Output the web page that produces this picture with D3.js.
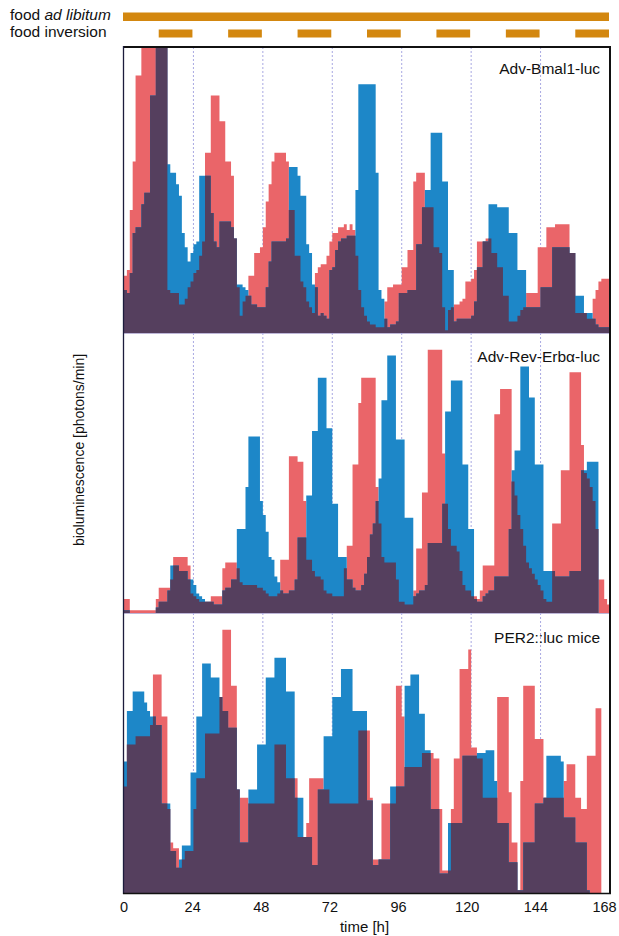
<!DOCTYPE html>
<html>
<head>
<meta charset="utf-8">
<script src="https://cdn.jsdelivr.net/npm/d3@7"></script>
<style>
  body { margin: 0; background: #fff; }
  text { font-family: "Liberation Sans", Arial, Helvetica, sans-serif; fill: #111; }
</style>
</head>
<body>
<svg id="chart" width="619" height="936"></svg>
<script>
// tick labels / categories
const dayTicks = [0, 24, 48, 72, 96, 120, 144, 168];
const gridHours = [24, 48, 72, 96, 120, 144];
const panelNames = ["Adv-Bmal1-luc", "Adv-Rev-Erbα-luc", "PER2::luc mice"];
const inversionStarts = [12, 36, 60, 84, 108, 132, 156];
const inversionLength = 12;

// hourly bins, % of panel height (one row = one day)
const bmal1Red = [
  20, 22, 43, 60, 90, 90, 100, 100, 100, 100, 100, 100, 100, 100, 100, 15, 14, 14, 14, 10, 10, 12, 16, 18,
  21, 22, 27, 32, 63, 63, 83, 83, 83, 74, 74, 60, 60, 55, 33, 16, 6, 11, 13, 20, 20, 28, 28, 30,
  37, 46, 52, 60, 63, 63, 63, 63, 60, 43, 43, 27, 27, 18, 16, 11, 9, 7, 21, 23, 24, 24, 27, 32,
  35, 35, 37, 37, 38, 36, 38, 36, 27, 15, 9, 6, 4, 3, 3, 2, 2, 2, 11, 16, 16, 17, 17, 17,
  23, 23, 29, 29, 53, 56, 56, 56, 44, 44, 44, 30, 30, 28, 9, 1, 8, 9, 10, 10, 11, 12, 18, 18,
  19, 22, 32, 32, 32, 33, 33, 28, 28, 23, 23, 13, 13, 4, 4, 4, 6, 8, 9, 14, 14, 14, 14, 30,
  30, 30, 37, 37, 37, 38, 38, 38, 38, 38, 28, 28, 7, 7, 7, 7, 5, 5, 12, 15, 18, 19, 19, 19
];
const bmal1Blue = [
  15, 14, 21, 35, 37, 37, 45, 49, 49, 83, 83, 100, 100, 100, 100, 59, 56, 56, 52, 48, 35, 30, 25, 28,
  31, 32, 55, 55, 55, 55, 42, 32, 30, 39, 39, 39, 39, 37, 33, 17, 17, 16, 15, 13, 10, 10, 9, 9,
  9, 16, 25, 32, 32, 32, 32, 32, 33, 58, 58, 58, 55, 48, 48, 31, 28, 17, 16, 6, 7, 6, 5, 22,
  23, 29, 32, 33, 33, 34, 34, 34, 50, 87, 87, 87, 87, 87, 87, 56, 15, 12, 5, 2, 3, 3, 4, 14,
  14, 14, 15, 15, 15, 31, 31, 44, 50, 50, 70, 70, 70, 70, 53, 53, 22, 22, 4, 5, 5, 5, 5, 5,
  6, 11, 23, 23, 32, 32, 45, 45, 45, 44, 44, 44, 44, 35, 35, 35, 22, 22, 22, 9, 9, 9, 9, 9,
  16, 16, 16, 16, 30, 30, 30, 30, 30, 30, 28, 28, 13, 13, 13, 7, 7, 7, 5, 3, 2, 2, 2, 2
];
const revErbRed = [
  5, 5, 1, 1, 1, 1, 1, 1, 1, 1, 1, 5, 9, 9, 9, 9, 12, 20, 20, 20, 20, 20, 17, 7,
  6, 5, 4, 4, 4, 4, 6, 6, 6, 6, 16, 18, 18, 18, 18, 16, 11, 10, 10, 10, 10, 10, 9, 9,
  8, 7, 6, 6, 6, 7, 19, 19, 19, 56, 56, 56, 54, 54, 40, 19, 19, 15, 13, 13, 12, 8, 7, 7,
  6, 6, 6, 6, 16, 24, 24, 53, 53, 75, 84, 84, 84, 84, 84, 45, 32, 20, 18, 18, 18, 18, 12, 4,
  4, 3, 3, 3, 8, 23, 23, 43, 43, 94, 94, 94, 94, 94, 57, 39, 30, 24, 24, 22, 15, 10, 8, 8,
  6, 6, 5, 8, 17, 17, 17, 17, 71, 71, 80, 80, 80, 80, 47, 42, 35, 30, 24, 18, 16, 14, 12, 10,
  8, 5, 4, 4, 32, 32, 32, 51, 51, 51, 86, 86, 86, 86, 60, 50, 48, 45, 40, 30, 12, 12, 5, 3
];
const revErbBlue = [
  1, 1, 0, 0, 0, 0, 0, 0, 0, 0, 0, 2, 4, 4, 4, 8, 17, 17, 17, 15, 15, 15, 12, 12,
  10, 7, 6, 5, 4, 4, 4, 3, 3, 3, 8, 9, 9, 12, 12, 30, 30, 30, 45, 63, 63, 63, 63, 40,
  35, 29, 20, 19, 13, 11, 8, 7, 7, 8, 8, 12, 27, 27, 27, 42, 42, 65, 65, 84, 84, 84, 66, 66,
  39, 39, 20, 20, 20, 12, 12, 9, 8, 8, 10, 14, 20, 28, 32, 40, 48, 76, 76, 92, 92, 92, 62, 62,
  62, 34, 34, 34, 6, 7, 8, 8, 10, 25, 25, 25, 25, 25, 39, 72, 72, 83, 83, 83, 83, 53, 53, 30,
  30, 5, 4, 4, 6, 7, 8, 8, 13, 13, 13, 13, 13, 30, 51, 58, 58, 88, 88, 88, 77, 77, 53, 53,
  53, 15, 15, 15, 15, 13, 13, 13, 13, 13, 15, 15, 15, 15, 51, 51, 54, 54, 54, 54, 0, 0, 0, 0
];
const per2Red = [
  38, 53, 53, 53, 56, 56, 56, 56, 56, 60, 78, 78, 78, 63, 63, 30, 18, 16, 16, 9, 12, 15, 15, 15,
  30, 41, 41, 41, 57, 57, 57, 57, 57, 70, 94, 94, 94, 74, 74, 37, 34, 34, 34, 32, 32, 32, 32, 32,
  32, 32, 32, 32, 53, 53, 53, 53, 41, 41, 41, 41, 20, 20, 20, 25, 41, 41, 41, 41, 41, 37, 37, 32,
  32, 32, 32, 32, 32, 32, 32, 32, 32, 58, 58, 58, 58, 34, 12, 12, 12, 32, 32, 32, 32, 32, 74, 74,
  63, 45, 45, 45, 45, 45, 45, 50, 50, 50, 50, 48, 48, 30, 8, 8, 8, 30, 48, 48, 80, 80, 80, 87,
  52, 52, 48, 48, 34, 34, 34, 34, 34, 70, 70, 70, 70, 36, 18, 18, 1, 40, 74, 74, 74, 74, 55, 55,
  55, 34, 34, 34, 34, 34, 34, 34, 40, 46, 46, 46, 34, 34, 30, 30, 49, 49, 49, 66, 66, 0, 0, 0
];
const per2Blue = [
  47, 65, 65, 72, 72, 72, 72, 68, 65, 63, 63, 60, 60, 32, 32, 32, 15, 15, 9, 12, 17, 17, 17, 43,
  43, 63, 63, 82, 82, 82, 77, 77, 77, 70, 65, 65, 59, 59, 59, 37, 18, 18, 18, 37, 37, 37, 53, 53,
  53, 77, 77, 77, 84, 84, 84, 84, 72, 72, 72, 34, 34, 34, 20, 20, 20, 10, 10, 37, 37, 56, 56, 56,
  70, 70, 70, 80, 80, 80, 80, 65, 65, 65, 65, 65, 33, 33, 10, 10, 12, 12, 12, 12, 38, 38, 38, 38,
  38, 74, 74, 78, 78, 78, 64, 64, 51, 51, 30, 30, 30, 7, 7, 7, 25, 25, 25, 25, 25, 49, 49, 49,
  49, 49, 50, 50, 50, 51, 51, 51, 40, 25, 25, 25, 25, 11, 11, 11, 1, 1, 18, 18, 18, 18, 32, 32,
  32, 34, 49, 49, 49, 49, 49, 47, 27, 27, 27, 27, 18, 18, 18, 18, 1, 0, 0, 0, 0, 0, 0, 0
];

const colors = { red: "#ea6569", blue: "#1d87c8", overlap: "#553f5e", food: "#d3870f" };

const svg = d3.select("#chart");

const x = d3.scaleLinear().domain([0, 168]).range([124, 610]);
// the printed tick labels sit on a slightly narrower scale than the traces
const xLabel = d3.scaleLinear().domain([0, 168]).range([123.5, 604]);

// food schedule bars
svg.append("text").attr("x", 10).attr("y", 19.5).style("font-size", "15.5px")
  .text("food ")
  .append("tspan").style("font-style", "italic").text("ad libitum");
svg.append("text").attr("x", 10).attr("y", 37).style("font-size", "15.5px").text("food inversion");

svg.append("rect")
  .attr("x", x(0) - 1).attr("y", 12.5)
  .attr("width", x(168) - x(0)).attr("height", 8.5)
  .attr("fill", colors.food);

svg.append("g").selectAll("rect")
  .data(inversionStarts)
  .join("rect")
    .attr("x", d => x(d))
    .attr("y", 29.5)
    .attr("width", d => x(d + inversionLength) - x(d) - 1)
    .attr("height", 8)
    .attr("fill", colors.food);

const panels = [
  { name: panelNames[0], red: bmal1Red, blue: bmal1Blue, top: 47, bottom: 333, labelY: 73.5 },
  { name: panelNames[1], red: revErbRed, blue: revErbBlue, top: 333, bottom: 613, labelY: 362 },
  { name: panelNames[2], red: per2Red, blue: per2Blue, top: 613, bottom: 893, labelY: 643 }
];

const withEnd = v => v.concat([v[v.length - 1]]);

panels.forEach((p, k) => {
  const y = d3.scaleLinear().domain([0, 100]).range([p.bottom, p.top]);
  const g = svg.append("g");

  const clipId = "clip" + k;
  svg.append("clipPath").attr("id", clipId)
    .append("rect")
      .attr("x", x(0)).attr("y", p.top + 1)
      .attr("width", x(168) - x(0)).attr("height", p.bottom - p.top - 1);

  // dotted day lines
  g.selectAll("line.day")
    .data(gridHours)
    .join("line")
      .attr("class", "day")
      .attr("x1", d => x(d)).attr("x2", d => x(d))
      .attr("y1", p.top).attr("y2", p.bottom)
      .attr("stroke", "#a9a9e2")
      .attr("stroke-width", 1)
      .attr("stroke-dasharray", "2,2");

  const area = d3.area()
    .curve(d3.curveStepAfter)
    .x((d, i) => x(i))
    .y0(y(0))
    .y1(d => y(Math.min(d, 105)));

  const overlap = p.red.map((v, i) => Math.min(v, p.blue[i]));

  const traces = g.append("g").attr("clip-path", `url(#${clipId})`);
  traces.append("path").attr("d", area(withEnd(p.red))).attr("fill", colors.red);
  traces.append("path").attr("d", area(withEnd(p.blue))).attr("fill", colors.blue);
  traces.append("path").attr("d", area(withEnd(overlap))).attr("fill", colors.overlap);

  // baseline of the panel
  g.append("line")
    .attr("x1", x(0)).attr("x2", x(168))
    .attr("y1", p.bottom + 0.5).attr("y2", p.bottom + 0.5)
    .attr("stroke", "#bdb6d8").attr("stroke-width", 1);

  g.append("text")
    .attr("x", 600).attr("y", p.labelY)
    .attr("text-anchor", "end")
    .style("font-size", "15.5px")
    .text(p.name);
});

// frame
const frame = svg.append("g").attr("fill", "none");
frame.append("line").attr("x1", x(0) - 1).attr("x2", x(168) + 1).attr("y1", 47).attr("y2", 47)
  .attr("stroke", "#111").attr("stroke-width", 2);
frame.append("line").attr("x1", x(0) - 0.5).attr("x2", x(0) - 0.5).attr("y1", 46).attr("y2", 894)
  .attr("stroke", "#1c1c3c").attr("stroke-width", 1.3);
frame.append("line").attr("x1", x(168)).attr("x2", x(168)).attr("y1", 46).attr("y2", 894)
  .attr("stroke", "#111").attr("stroke-width", 2);
frame.append("line").attr("x1", x(0) - 1).attr("x2", x(168) + 1).attr("y1", 893.5).attr("y2", 893.5)
  .attr("stroke", "#111").attr("stroke-width", 1.5);

// x axis
const xAxis = d3.axisBottom(xLabel).tickValues(dayTicks).tickSize(0).tickPadding(9);
const axisG = svg.append("g").attr("transform", "translate(0,893)").call(xAxis);
axisG.select(".domain").remove();
axisG.selectAll("text")
  .style("font-size", "14.5px")
  .style("font-family", "'Liberation Sans', Arial, sans-serif")
  .attr("fill", "#111");

svg.append("text")
  .attr("x", 364.5).attr("y", 932)
  .attr("text-anchor", "middle")
  .style("font-size", "15px")
  .text("time [h]");

svg.append("text")
  .attr("transform", "translate(84,450) rotate(-90)")
  .attr("text-anchor", "middle")
  .style("font-size", "14px")
  .text("bioluminescence [photons/min]");
</script>
</body>
</html>
